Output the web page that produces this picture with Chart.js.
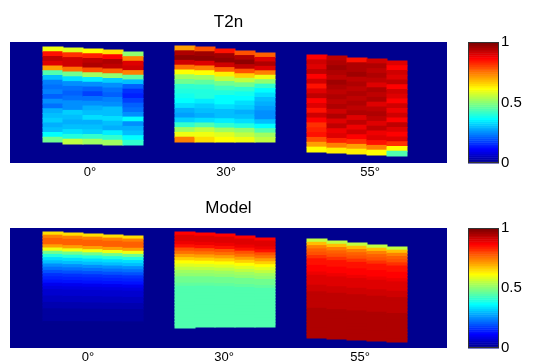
<!DOCTYPE html>
<html>
<head>
<meta charset="utf-8">
<script src="https://cdn.jsdelivr.net/npm/chart.js@4.4.1/dist/chart.umd.min.js"></script>
<style>
  body { margin: 0; background: #fff; }
  canvas { position: absolute; left: 0; }
  #top-chart { top: 0; }
  #bottom-chart { top: 182px; }
</style>
</head>
<body>
<canvas id="top-chart" width="534" height="182"></canvas>
<canvas id="bottom-chart" width="534" height="181"></canvas>
<script>
// Data

const angleLabels = ['0°', '30°', '55°'];
const topTickPos = [80, 216, 360];
const bottomTickPos = [78, 214, 350];
const cbarTicks = [0, 0.5, 1];

// column centres of the three images (x units)
const imageX = [
    [43, 63, 83, 103, 123],
    [175, 195, 215, 235, 255],
    [307, 327, 347, 367, 387]
];

// depth extent of each column (y units, top of axes = 0)
const t2nTop = [[5, 6, 7, 8, 10], [4, 5, 7, 9, 11], [13, 14, 16, 17, 19]];
const t2nBottom = [[100, 102, 102, 103, 103], [100, 100, 100, 100, 100], [110, 111, 112, 113, 114]];
const modelTop = [[4, 5, 6, 7, 8], [4, 5, 6, 8, 10], [11, 13, 15, 17, 19]];
const modelBottom = [[100, 100, 100, 100, 100], [100, 99, 99, 99, 99], [110, 111, 112, 113, 114]];

// T2n, 0 deg : one list per column, top to bottom
const t2n0 = [
    [0.6, 0.85, 0.93, 0.9, 0.72, 0.45, 0.3, 0.24, 0.22, 0.24, 0.2, 0.25, 0.22, 0.28, 0.3, 0.32, 0.28, 0.3, 0.36, 0.48],
    [0.58, 0.82, 0.92, 0.92, 0.76, 0.48, 0.33, 0.26, 0.22, 0.2, 0.23, 0.26, 0.25, 0.32, 0.3, 0.28, 0.3, 0.33, 0.4, 0.55],
    [0.62, 0.84, 0.93, 0.95, 0.8, 0.52, 0.35, 0.26, 0.2, 0.18, 0.22, 0.25, 0.28, 0.3, 0.34, 0.28, 0.3, 0.32, 0.42, 0.52],
    [0.65, 0.87, 0.96, 0.94, 0.78, 0.5, 0.32, 0.25, 0.22, 0.2, 0.24, 0.26, 0.3, 0.3, 0.33, 0.3, 0.28, 0.35, 0.42, 0.52],
    [0.5, 0.74, 0.9, 0.92, 0.74, 0.46, 0.3, 0.2, 0.16, 0.15, 0.18, 0.2, 0.22, 0.25, 0.36, 0.25, 0.28, 0.3, 0.36, 0.42]
];
// T2n, 30 deg
const t2n30 = [
    [0.72, 0.95, 0.98, 0.92, 0.76, 0.62, 0.52, 0.47, 0.42, 0.4, 0.38, 0.36, 0.33, 0.28, 0.27, 0.32, 0.42, 0.52, 0.6, 0.75],
    [0.8, 0.97, 0.98, 0.9, 0.74, 0.62, 0.53, 0.46, 0.42, 0.4, 0.39, 0.35, 0.32, 0.3, 0.28, 0.34, 0.44, 0.55, 0.6, 0.65],
    [0.85, 0.97, 0.98, 0.92, 0.78, 0.64, 0.55, 0.47, 0.43, 0.4, 0.37, 0.36, 0.33, 0.3, 0.3, 0.35, 0.42, 0.52, 0.58, 0.62],
    [0.8, 0.96, 0.98, 0.93, 0.8, 0.66, 0.55, 0.48, 0.42, 0.38, 0.36, 0.34, 0.32, 0.29, 0.3, 0.34, 0.4, 0.5, 0.56, 0.6],
    [0.78, 0.9, 0.96, 0.9, 0.75, 0.6, 0.5, 0.42, 0.36, 0.33, 0.3, 0.28, 0.27, 0.26, 0.25, 0.3, 0.36, 0.45, 0.52, 0.55]
];
// T2n, 55 deg
const t2n55 = [
    [0.88, 0.92, 0.9, 0.94, 0.88, 0.92, 0.86, 0.9, 0.93, 0.87, 0.9, 0.86, 0.92, 0.88, 0.82, 0.84, 0.86, 0.8, 0.72, 0.62],
    [0.93, 0.96, 0.97, 0.95, 0.94, 0.97, 0.95, 0.93, 0.96, 0.94, 0.95, 0.92, 0.96, 0.91, 0.93, 0.89, 0.91, 0.84, 0.74, 0.64],
    [0.86, 0.95, 0.96, 0.97, 0.94, 0.96, 0.94, 0.95, 0.93, 0.96, 0.93, 0.95, 0.91, 0.94, 0.89, 0.92, 0.88, 0.82, 0.72, 0.63],
    [0.92, 0.95, 0.93, 0.96, 0.94, 0.91, 0.95, 0.93, 0.95, 0.91, 0.94, 0.96, 0.93, 0.91, 0.94, 0.89, 0.9, 0.85, 0.74, 0.62],
    [0.9, 0.88, 0.92, 0.9, 0.93, 0.88, 0.92, 0.9, 0.88, 0.92, 0.89, 0.92, 0.88, 0.93, 0.9, 0.87, 0.9, 0.82, 0.62, 0.45]
];

// Model profiles, top to bottom, same for every column of an image
const model0 = [0.65, 0.75, 0.78, 0.78, 0.72, 0.6, 0.48, 0.4, 0.34, 0.3, 0.26, 0.22, 0.19, 0.16, 0.14,
                0.12, 0.1, 0.08, 0.07, 0.06, 0.05, 0.04, 0.03, 0.03, 0.02, 0.02, 0.01, 0.01, 0, 0];
const model30 = [0.88, 0.91, 0.9, 0.89, 0.85, 0.8, 0.76, 0.72, 0.66, 0.62, 0.58, 0.55, 0.52, 0.5, 0.48,
                 0.47, 0.46, 0.45, 0.45, 0.44, 0.44, 0.44, 0.44, 0.44, 0.44, 0.44, 0.44, 0.44, 0.44, 0.44];
const model55 = [0.55, 0.68, 0.74, 0.78, 0.8, 0.83, 0.85, 0.86, 0.87, 0.88, 0.89, 0.9, 0.9, 0.91, 0.92,
                 0.92, 0.93, 0.93, 0.94, 0.94, 0.94, 0.95, 0.95, 0.95, 0.95, 0.95, 0.95, 0.95, 0.95, 0.95];

const plotWidth = 437;
const cbarFrom = 458;
const cbarTo = 489;
const fontFamily = '"Liberation Sans", Arial, Helvetica, sans-serif';

// MATLAB jet(64) colour map

function jetU(j) {
    if (j < 1 || j > 47) {
        return 0;
    }
    if (j <= 16) {
        return j / 16;
    }
    if (j <= 31) {
        return 1;
    }
    return (48 - j) / 16;
}

function jet(v) {
    v = Math.min(1, Math.max(0, v));
    const k = Math.round(v * 63) + 1;
    const r = Math.round(jetU(k - 24) * 255);
    const g = Math.round(jetU(k - 8) * 255);
    const b = Math.round(jetU(k + 8) * 255);
    return 'rgb(' + r + ',' + g + ',' + b + ')';
}

// Turn column lists into floating bar cells

function buildCells(images, tops, bottoms, shared) {
    const cells = [];
    for (let img = 0; img < images.length; img++) {
        for (let c = 0; c < imageX[img].length; c++) {
            const col = shared ? images[img] : images[img][c];
            const top = tops[img][c];
            const h = (bottoms[img][c] - top) / col.length;
            for (let r = 0; r < col.length; r++) {
                cells.push({ x: imageX[img][c], y: [top + r * h, top + (r + 1) * h], v: col[r] });
            }
        }
    }
    return cells;
}

// axes background, colour bar and title

const heatmapFrame = {
    id: 'heatmapFrame',
    beforeDatasetsDraw(chart, args, opts) {
        const ctx = chart.ctx;
        const x = chart.scales.x;
        const cb = chart.scales.cbar;
        const area = chart.chartArea;
        const x0 = x.getPixelForValue(0);
        const x1 = x.getPixelForValue(plotWidth);
        ctx.save();
        ctx.fillStyle = jet(0);
        ctx.fillRect(x0, area.top, x1 - x0, area.bottom - area.top);

        const c0 = x.getPixelForValue(cbarFrom);
        const c1 = x.getPixelForValue(cbarTo);
        for (let i = 0; i < 64; i++) {
            const ya = cb.getPixelForValue(i / 64);
            const yb = cb.getPixelForValue((i + 1) / 64);
            ctx.fillStyle = jet(i / 63);
            ctx.fillRect(c0, yb, c1 - c0, ya - yb + 0.5);
        }
        ctx.strokeStyle = '#333';
        ctx.lineWidth = 1;
        ctx.strokeRect(c0 + 0.5, area.top + 0.5, c1 - c0 - 1, area.bottom - area.top - 1);
        ctx.restore();
    },
    afterDraw(chart, args, opts) {
        const ctx = chart.ctx;
        const x = chart.scales.x;
        ctx.save();
        ctx.fillStyle = '#000';
        ctx.font = '17px ' + fontFamily;
        ctx.textAlign = 'center';
        ctx.textBaseline = 'middle';
        ctx.fillText(opts.text, x.getPixelForValue(plotWidth / 2), opts.y);
        ctx.restore();
    }
};

function makeChart(id, title, titleY, cells, yMax, padTop, xHeight, tickPos) {
    const ctx = document.getElementById(id);
    return new Chart(ctx, {
        type: 'bar',
        data: {
            datasets: [{
                data: cells,
                backgroundColor: (c) => jet(c.raw ? c.raw.v : 0),
                barThickness: 20,
                borderWidth: 0,
                inflateAmount: 0.5
            }]
        },
        options: {
            responsive: false,
            animation: false,
            events: [],
            layout: { padding: { left: 10, top: padTop, right: 0, bottom: 0 } },
            plugins: {
                legend: { display: false },
                tooltip: { enabled: false },
                heatmapFrame: { text: title, y: titleY }
            },
            scales: {
                x: {
                    type: 'linear',
                    min: 0,
                    max: cbarTo,
                    offset: false,
                    grid: { display: false, drawTicks: false },
                    border: { display: false },
                    afterBuildTicks: (s) => { s.ticks = tickPos.map((v) => ({ value: v })); },
                    afterFit: (s) => { s.height = xHeight; },
                    ticks: {
                        padding: 2,
                        color: '#000',
                        maxRotation: 0,
                        autoSkip: false,
                        font: { family: fontFamily, size: 13 },
                        callback: (v, i) => angleLabels[i]
                    }
                },
                y: { display: false, min: 0, max: yMax, reverse: true },
                cbar: {
                    type: 'linear',
                    position: 'right',
                    min: 0,
                    max: 1,
                    grid: { display: false, drawTicks: false },
                    border: { display: false },
                    afterBuildTicks: (s) => { s.ticks = cbarTicks.map((v) => ({ value: v })); },
                    afterFit: (s) => { s.width = 534 - 10 - cbarTo; },
                    ticks: {
                        padding: 2,
                        color: '#000',
                        font: { family: fontFamily, size: 15 },
                        callback: (v) => String(v)
                    }
                }
            }
        },
        plugins: [heatmapFrame]
    });
}

makeChart('top-chart', 'T2n', 22, buildCells([t2n0, t2n30, t2n55], t2nTop, t2nBottom, false), 121, 42, 19, topTickPos);
makeChart('bottom-chart', 'Model', 26, buildCells([model0, model30, model55], modelTop, modelBottom, true), 120, 46, 15, bottomTickPos);
</script>
</body>
</html>
